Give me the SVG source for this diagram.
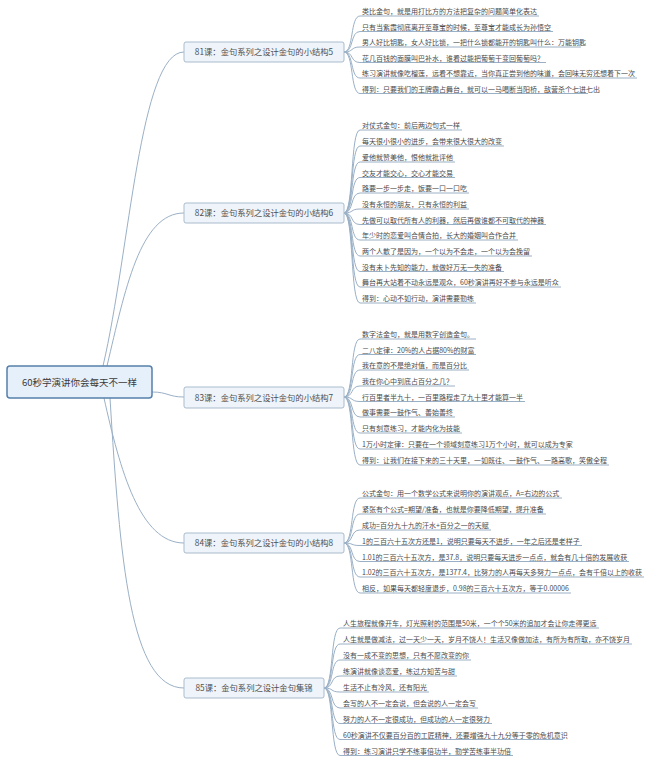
<svg xmlns="http://www.w3.org/2000/svg" width="650" height="764" viewBox="0 0 650 764">
<style>
text{font-family:"Noto Sans CJK SC","Noto Sans",sans-serif;fill:#4a4a4a}
.leaf{font-size:7px}
.br{font-size:8.3px;text-anchor:middle;fill:#505050}
.root{font-size:9.5px;text-anchor:middle;fill:#3a3a3a}
.bbox{fill:#eef4fa;stroke:#a9bccd;stroke-width:1}
.rbox{fill:#e6f0fa;stroke:#5680aa;stroke-width:1.5}
#connectors path{fill:none;stroke:#9ab0c6;stroke-width:1}
</style>
<rect width="650" height="764" fill="#fff"/>
<g id="connectors">
<path d="M103,366 C130,250 140,52 184,52"/>
<path d="M107,366 C125,290 140,213 184,213"/>
<path d="M152,392 C168,392 168,397 184,397"/>
<path d="M104,398 C120,470 140,543 184,543"/>
<path d="M110,398 C120,560 130,688 184,688"/>
<path d="M344,52 C354,52 350,16 360,16 H539"/>
<path d="M344,52 C354,52 350,31.5 360,31.5 H553"/>
<path d="M344,52 C354,52 350,47 360,47 H581"/>
<path d="M344,52 C354,52 350,62.5 360,62.5 H546"/>
<path d="M344,52 C354,52 350,78 360,78 H637"/>
<path d="M344,52 C354,52 350,93.5 360,93.5 H588"/>
<path d="M344,213 C354,213 350,130 360,130 H462"/>
<path d="M344,213 C354,213 350,146 360,146 H504"/>
<path d="M344,213 C354,213 350,162 360,162 H455"/>
<path d="M344,213 C354,213 350,177.5 360,177.5 H455"/>
<path d="M344,213 C354,213 350,193 360,193 H469"/>
<path d="M344,213 C354,213 350,209 360,209 H469"/>
<path d="M344,213 C354,213 350,224.5 360,224.5 H546"/>
<path d="M344,213 C354,213 350,240 360,240 H518"/>
<path d="M344,213 C354,213 350,256 360,256 H532"/>
<path d="M344,213 C354,213 350,271.5 360,271.5 H504"/>
<path d="M344,213 C354,213 350,287 360,287 H561"/>
<path d="M344,213 C354,213 350,303 360,303 H476"/>
<path d="M344,397 C354,397 350,339 360,339 H476"/>
<path d="M344,397 C354,397 350,354.5 360,354.5 H476"/>
<path d="M344,397 C354,397 350,370 360,370 H469"/>
<path d="M344,397 C354,397 350,386 360,386 H455"/>
<path d="M344,397 C354,397 350,401.5 360,401.5 H525"/>
<path d="M344,397 C354,397 350,417 360,417 H455"/>
<path d="M344,397 C354,397 350,433 360,433 H462"/>
<path d="M344,397 C354,397 350,449 360,449 H568"/>
<path d="M344,397 C354,397 350,465 360,465 H609"/>
<path d="M344,543 C354,543 350,498 360,498 H562"/>
<path d="M344,543 C354,543 350,514 360,514 H546"/>
<path d="M344,543 C354,543 350,530 360,530 H491"/>
<path d="M344,543 C354,543 350,545.5 360,545.5 H582"/>
<path d="M344,543 C354,543 350,561.5 360,561.5 H629"/>
<path d="M344,543 C354,543 350,577 360,577 H644"/>
<path d="M344,543 C354,543 350,593 360,593 H571"/>
<path d="M324,688 C334,688 330,628 340,628 H599"/>
<path d="M324,688 C334,688 330,644 340,644 H632"/>
<path d="M324,688 C334,688 330,660 340,660 H471"/>
<path d="M324,688 C334,688 330,676 340,676 H457"/>
<path d="M324,688 C334,688 330,692 340,692 H429"/>
<path d="M324,688 C334,688 330,708 340,708 H478"/>
<path d="M324,688 C334,688 330,723.5 340,723.5 H492"/>
<path d="M324,688 C334,688 330,739.5 340,739.5 H563"/>
<path d="M324,688 C334,688 330,755.5 340,755.5 H513"/>
</g>
<g id="root">
<rect class="rbox" x="7" y="366" width="145" height="32" rx="3"/>
<text class="root" x="79.5" y="386">60秒学演讲你会每天不一样</text>
</g>
<g id="b81">
<rect class="bbox" x="184" y="42" width="160" height="20" rx="2"/>
<text class="br" x="264" y="55">81课：金句系列之设计金句的小结构5</text>
</g>
<g id="b82">
<rect class="bbox" x="184" y="203" width="160" height="20" rx="2"/>
<text class="br" x="264" y="216">82课：金句系列之设计金句的小结构6</text>
</g>
<g id="b83">
<rect class="bbox" x="184" y="387" width="160" height="21" rx="2"/>
<text class="br" x="264" y="400.5">83课：金句系列之设计金句的小结构7</text>
</g>
<g id="b84">
<rect class="bbox" x="184" y="533" width="160" height="20" rx="2"/>
<text class="br" x="264" y="546">84课：金句系列之设计金句的小结构8</text>
</g>
<g id="b85">
<rect class="bbox" x="184" y="678" width="140" height="20" rx="2"/>
<text class="br" x="254" y="691">85课：金句系列之设计金句集锦</text>
</g>
<g id="leaves81" class="leaf">
<text x="362" y="14.2">类比金句，就是用打比方的方法把复杂的问题简单化表达</text>
<text x="362" y="29.7">只有当紫霞彻底离开至尊宝的时候，至尊宝才能成长为孙悟空</text>
<text x="362" y="45.2">男人好比钥匙，女人好比锁，一把什么锁都能开的钥匙叫什么：万能钥匙</text>
<text x="362" y="60.7">花几百钱的面膜叫巴补水，谁看过能把葡萄干变回葡萄吗？</text>
<text x="362" y="76.2">练习演讲就像吃榴莲，远看不想靠近，当你真正尝到他的味道，会回味无穷还想着下一次</text>
<text x="362" y="91.7">得到：只要我们的王牌霸占舞台，就可以一马喝断当阳桥，敌营杀个七进七出</text>
</g>
<g id="leaves82" class="leaf">
<text x="362" y="128.2">对仗式金句：前后两边句式一样</text>
<text x="362" y="144.2">每天很小很小的进步，会带来很大很大的改变</text>
<text x="362" y="160.2">爱他就赞美他，恨他就批评他</text>
<text x="362" y="175.7">交友才能交心，交心才能交易</text>
<text x="362" y="191.2">路要一步一步走，饭要一口一口吃</text>
<text x="362" y="207.2">没有永恒的朋友，只有永恒的利益</text>
<text x="362" y="222.7">先做可以取代所有人的利器，然后再做谁都不可取代的神器</text>
<text x="362" y="238.2">年少时的恋爱叫合情合拍，长大的婚姻叫合作合并</text>
<text x="362" y="254.2">两个人散了是因为，一个以为不会走，一个以为会挽留</text>
<text x="362" y="269.7">没有未卜先知的能力，就做好万无一失的准备</text>
<text x="362" y="285.2">舞台再大站着不动永远是观众，60秒演讲再好不参与永远是听众</text>
<text x="362" y="301.2">得到：心动不如行动，演讲需要勤练</text>
</g>
<g id="leaves83" class="leaf">
<text x="362" y="337.2">数字法金句，就是用数字创造金句。</text>
<text x="362" y="352.7">二八定律：20%的人占据80%的财富</text>
<text x="362" y="368.2">我在意的不是绝对值，而是百分比</text>
<text x="362" y="384.2">我在你心中到底占百分之几？</text>
<text x="362" y="399.7">行百里者半九十，一百里路程走了九十里才能算一半</text>
<text x="362" y="415.2">做事需要一鼓作气、善始善终</text>
<text x="362" y="431.2">只有刻意练习，才能内化为技能</text>
<text x="362" y="447.2">1万小时定律：只要在一个领域刻意练习1万个小时，就可以成为专家</text>
<text x="362" y="463.2">得到：让我们在接下来的三十天里，一如既往、一鼓作气、一路高歌，笑傲全程</text>
</g>
<g id="leaves84" class="leaf">
<text x="362" y="496.2">公式金句：用一个数学公式来说明你的演讲观点，A=右边的公式</text>
<text x="362" y="512.2">紧张有个公式=期望/准备，也就是你要降低期望，提升准备</text>
<text x="362" y="528.2">成功=百分九十九的汗水+百分之一的天赋</text>
<text x="362" y="543.7">1的三百六十五次方还是1，说明只要每天不进步，一年之后还是老样子</text>
<text x="362" y="559.7">1.01的三百六十五次方，是37.8，说明只要每天进步一点点，就会有几十倍的发展收获</text>
<text x="362" y="575.2">1.02的三百六十五次方，是1377.4，比努力的人再每天多努力一点点，会有千倍以上的收获</text>
<text x="362" y="591.2">相反，如果每天都轻度退步，0.98的三百六十五次方，等于0.00006</text>
</g>
<g id="leaves85" class="leaf">
<text x="343" y="626.2">人生旅程就像开车，灯光照射的范围是50米，一个个50米的追加才会让你走得更远</text>
<text x="343" y="642.2">人生就是做减法，过一天少一天，岁月不饶人！生活又像做加法，有所为有所取，亦不饶岁月</text>
<text x="343" y="658.2">没有一成不变的思想，只有不愿改变的你</text>
<text x="343" y="674.2">练演讲就像谈恋爱，练过方知苦与甜</text>
<text x="343" y="690.2">生活不止有冷风，还有阳光</text>
<text x="343" y="706.2">会写的人不一定会说，但会说的人一定会写</text>
<text x="343" y="721.7">努力的人不一定很成功，但成功的人一定很努力</text>
<text x="343" y="737.7">60秒演讲不仅要百分百的工匠精神，还要增强九十九分等于零的危机意识</text>
<text x="343" y="753.7">得到：练习演讲只学不练事倍功半，勤学苦练事半功倍</text>
</g>
</svg>
